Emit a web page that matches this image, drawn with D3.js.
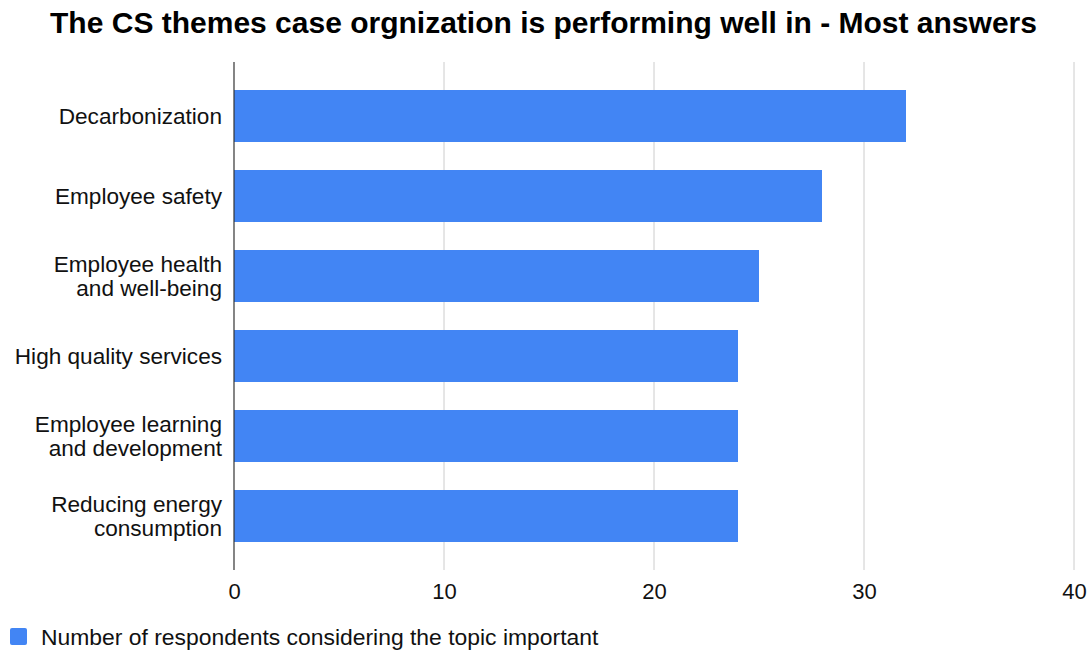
<!DOCTYPE html>
<html>
<head>
<meta charset="utf-8">
<script src="https://cdn.jsdelivr.net/npm/d3@7"></script>
<style>
  html, body { margin: 0; padding: 0; background: #fff; }
  svg { display: block; font-family: "Liberation Sans", Arial, Helvetica, sans-serif; }
</style>
</head>
<body>
<svg id="chart" width="1089" height="652"></svg>
<script>
// Topics (each entry holds the wrapped label lines) and respondent counts
const categories = [
  ["Decarbonization"],
  ["Employee safety"],
  ["Employee health", "and well-being"],
  ["High quality services"],
  ["Employee learning", "and development"],
  ["Reducing energy", "consumption"]
];
const values = [32, 28, 25, 24, 24, 24];
const xTicks = [0, 10, 20, 30, 40];
const titleText = "The CS themes case orgnization is performing well in - Most answers";
const seriesName = "Number of respondents considering the topic important";

const svg = d3.select("#chart");
const W = 1089, H = 652;
const m = { top: 62, right: 15, bottom: 82, left: 234 };

const keys = categories.map(c => c.join(" "));
const x = d3.scaleLinear().domain([0, 40]).range([m.left, W - m.right]);
const y = d3.scaleBand().domain(keys).range([m.top, H - m.bottom]).paddingInner(0.35).paddingOuter(0.35);

// Title
svg.append("text")
  .attr("x", W / 2 - 1).attr("y", 33)
  .attr("text-anchor", "middle")
  .attr("font-size", 30).attr("font-weight", "bold")
  .attr("fill", "#000")
  .text(titleText);

// Vertical grid lines
svg.append("g")
  .selectAll("line")
  .data(xTicks.filter(t => t !== 0))
  .join("line")
  .attr("x1", d => x(d)).attr("x2", d => x(d))
  .attr("y1", m.top).attr("y2", H - m.bottom)
  .attr("stroke", "#cccccc").attr("stroke-width", 1);

// Bars
svg.append("g")
  .selectAll("rect")
  .data(values)
  .join("rect")
  .attr("x", x(0))
  .attr("y", (d, i) => y(keys[i]))
  .attr("width", d => x(d) - x(0))
  .attr("height", y.bandwidth())
  .attr("fill", "#4285f4");

// Zero baseline
svg.append("line")
  .attr("x1", x(0)).attr("x2", x(0))
  .attr("y1", m.top).attr("y2", H - m.bottom)
  .attr("stroke", "#333").attr("stroke-width", 1.2);

// X axis tick labels
const xAxis = d3.axisBottom(x).tickValues(xTicks).tickSize(0).tickPadding(13);
const gx = svg.append("g").attr("transform", `translate(0,${H - m.bottom})`).call(xAxis);
gx.select(".domain").remove();
gx.selectAll("text").attr("font-size", 22).attr("fill", "#111")
  .attr("font-family", "Liberation Sans, Arial, sans-serif");

// Category labels (right-aligned, wrapped)
const lineH = 24;
const labels = svg.append("g")
  .selectAll("text")
  .data(categories)
  .join("text")
  .attr("text-anchor", "end")
  .attr("font-size", 22.6)
  .attr("fill", "#111")
  .attr("x", m.left - 12)
  .attr("y", (d, i) => y(keys[i]) + y.bandwidth() / 2);
labels.each(function (lines) {
  const t = d3.select(this);
  const off = -(lines.length - 1) * lineH / 2;
  lines.forEach((ln, j) => {
    t.append("tspan")
      .attr("x", m.left - 12)
      .attr("dy", j === 0 ? off : lineH)
      .attr("dominant-baseline", "central")
      .text(ln);
  });
});

// Legend
const lg = svg.append("g").attr("transform", "translate(10,628)");
lg.append("rect").attr("width", 17).attr("height", 17).attr("rx", 2).attr("fill", "#4285f4");
lg.append("text").attr("x", 31).attr("y", 9).attr("dominant-baseline", "central")
  .attr("font-size", 22.9).attr("fill", "#111").text(seriesName);
</script>
</body>
</html>
